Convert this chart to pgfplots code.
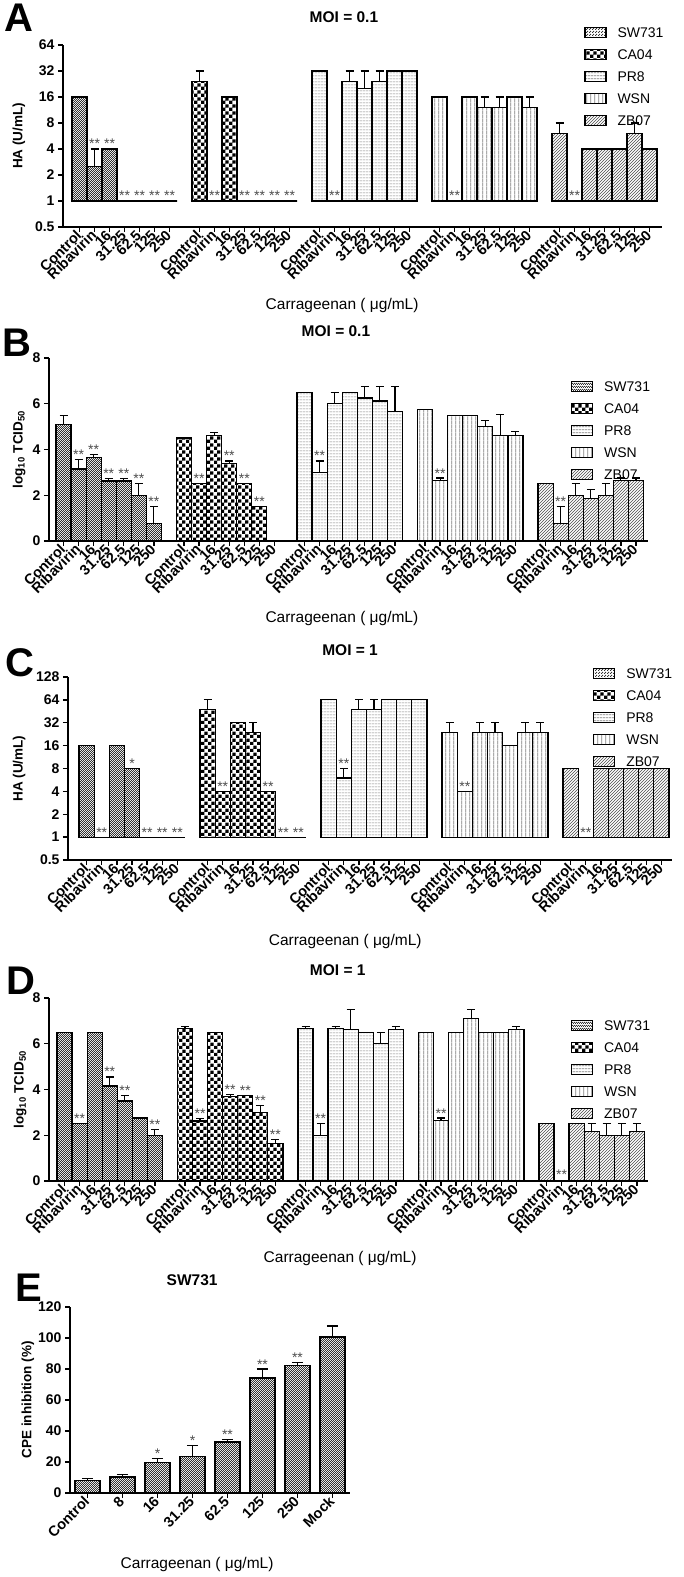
\documentclass[border=0pt]{standalone}
\usepackage{pgfplots}
\pgfplotsset{compat=1.18}
\usetikzlibrary{patterns}
\usepackage{fontspec}
\setmainfont{Liberation Sans}

\pgfdeclarepatternformonly{smallcheck}{\pgfqpoint{0pt}{0pt}}{\pgfqpoint{2.4pt}{2.4pt}}{\pgfqpoint{2.4pt}{2.4pt}}{%
  \pgfpathrectangle{\pgfqpoint{0pt}{0pt}}{\pgfqpoint{1.2pt}{1.2pt}}%
  \pgfpathrectangle{\pgfqpoint{1.2pt}{1.2pt}}{\pgfqpoint{1.2pt}{1.2pt}}%
  \pgfusepath{fill}}
\pgfdeclarepatternformonly{bigcheck}{\pgfqpoint{0pt}{0pt}}{\pgfqpoint{7.2pt}{7.2pt}}{\pgfqpoint{7.2pt}{7.2pt}}{%
  \pgfpathrectangle{\pgfqpoint{0pt}{0pt}}{\pgfqpoint{3.6pt}{3.6pt}}%
  \pgfpathrectangle{\pgfqpoint{3.6pt}{3.6pt}}{\pgfqpoint{3.6pt}{3.6pt}}%
  \pgfusepath{fill}}
\pgfdeclarepatternformonly{hlines}{\pgfqpoint{0pt}{0pt}}{\pgfqpoint{3pt}{3pt}}{\pgfqpoint{3pt}{3pt}}{%
  \pgfsetlinewidth{0.85pt}%
  \pgfpathmoveto{\pgfqpoint{0pt}{1.5pt}}\pgfpathlineto{\pgfqpoint{3pt}{1.5pt}}\pgfusepath{stroke}}
\pgfdeclarepatternformonly{vlines}{\pgfqpoint{0pt}{0pt}}{\pgfqpoint{3.8pt}{3.8pt}}{\pgfqpoint{3.8pt}{3.8pt}}{%
  \pgfsetlinewidth{0.85pt}%
  \pgfpathmoveto{\pgfqpoint{1.9pt}{0pt}}\pgfpathlineto{\pgfqpoint{1.9pt}{3.8pt}}\pgfusepath{stroke}}

\pgfplotsset{
  every axis title shift=0pt,
  panel/.style={
    scale only axis, clip=false,
    axis x line*=bottom, axis y line*=left,
    axis line style={line width=1.3pt, black},
    major tick style={line width=1.3pt, black},
    tick align=outside, major tick length=5pt,
    xticklabel style={rotate=45, anchor=east, inner sep=1pt, font=\bfseries\fontsize{14.5}{14.5}\selectfont},
    yticklabel style={font=\bfseries\fontsize{14}{14}\selectfont},
    ylabel style={font=\bfseries\fontsize{13.5}{13.5}\selectfont, anchor=center},
    xlabel style={font=\fontsize{15.5}{16}\selectfont, anchor=center},
    title style={font=\bfseries\fontsize{15.5}{16}\selectfont, anchor=center},
    legend cell align=left,
    legend style={draw=none, fill=none, anchor=north west, inner sep=0pt, row sep=10.75pt,
      font=\fontsize{14}{14}\selectfont,
      nodes={inner sep=0pt, text height=10pt, text depth=0pt},
      /tikz/every odd column/.append style={column sep=11pt}},
  },
  grpx/.style={
    xtick={0,1,2,3,4,5,6,8,9,10,11,12,13,14,16,17,18,19,20,21,22,24,25,26,27,28,29,30,32,33,34,35,36,37,38},
    xticklabels={Control,Ribavirin,16,31.25,62.5,125,250,Control,Ribavirin,16,31.25,62.5,125,250,Control,Ribavirin,16,31.25,62.5,125,250,Control,Ribavirin,16,31.25,62.5,125,250,Control,Ribavirin,16,31.25,62.5,125,250},
  },
  mybar/.style={ybar, bar width=1, bar shift=0pt, draw=black, line width=1.2pt,
    error bars/y dir=plus, error bars/y explicit,
    error bars/error mark=-,
    error bars/error bar style={line width=1.2pt, solid, black},
    error bars/error mark options={black, rotate=90, mark size=4pt, line width=1.2pt},
    legend image code/.code={\draw[##1, line width=1.2pt] (0pt,-5pt) rectangle (21pt,5pt);}},
  sw/.style={pattern=smallcheck, pattern color=black!80},
  ca/.style={pattern=bigcheck, pattern color=black},
  pr/.style={pattern=hlines, pattern color=black!50},
  ws/.style={pattern=vlines, pattern color=black!50},
  zb/.style={pattern=north east lines, pattern color=black!70},
  stars/.style={forget plot, draw=none, mark=none, nodes near coords, point meta=explicit symbolic,
    every node near coord/.append style={anchor=base, inner sep=0pt, font=\fontsize{14}{14}\selectfont, text=black!70}},
}

\begin{document}
\begin{tikzpicture}
\path[use as bounding box] (0pt,0pt) rectangle (683pt,1577pt);

% ---------------- Panel A ----------------
\node[font=\bfseries\fontsize{40}{40}\selectfont] at (19pt,1559pt) {A};
\begin{axis}[panel, grpx, at={(63pt,1350pt)}, anchor=south west, width=599pt, height=182pt,
  xmin=-1.1, xmax=38.83, ymode=log, log basis y=2, ymin=0.5, ymax=64,
  ytick={0.5,1,2,4,8,16,32,64}, yticklabels={0.5,1,2,4,8,16,32,64},
  ylabel={HA (U/mL)}, ylabel style={at={(axis description cs:-0.0735,0.5)}},
  xlabel={Carrageenan ( μg/mL)}, xlabel style={at={(axis description cs:0.466,-0.434)}},
  title={MOI = 0.1}, title style={at={(axis description cs:0.469,1.154)}},
  legend style={at={(0.870,1.099)}}]
\addplot[mybar, sw] table[row sep=\\, x=x, y=y, y error=e]{x y e\\0 16 0\\1 2.5 1.5\\2 4 0\\3 1 0\\4 1 0\\5 1 0\\6 1 0\\};
\addplot[mybar, ca] table[row sep=\\, x=x, y=y, y error=e]{x y e\\8 24 8\\9 1 0\\10 16 0\\11 1 0\\12 1 0\\13 1 0\\14 1 0\\};
\addplot[mybar, pr] table[row sep=\\, x=x, y=y, y error=e]{x y e\\16 32 0\\17 1 0\\18 24 8\\19 20 12\\20 24 8\\21 32 0\\22 32 0\\};
\addplot[mybar, ws] table[row sep=\\, x=x, y=y, y error=e]{x y e\\24 16 0\\25 1 0\\26 16 0\\27 12 4\\28 12 4\\29 16 0\\30 12 4\\};
\addplot[mybar, zb] table[row sep=\\, x=x, y=y, y error=e]{x y e\\32 6 2\\33 1 0\\34 4 0\\35 4 0\\36 4 0\\37 6 2\\38 4 0\\};
\addplot[stars] coordinates {(1,4) [**] (2,4) [**] (3,1) [**] (4,1) [**] (5,1) [**] (6,1) [**] (9,1) [**] (11,1) [**] (12,1) [**] (13,1) [**] (14,1) [**] (17,1) [**] (25,1) [**] (33,1) [**]};
\legend{SW731,CA04,PR8,WSN,ZB07}
\end{axis}

% ---------------- Panel B ----------------
\node[font=\bfseries\fontsize{40}{40}\selectfont] at (17pt,1234pt) {B};
\begin{axis}[panel, grpx, at={(49pt,1036pt)}, anchor=south west, width=599pt, height=183pt,
  xmin=-0.963, xmax=38.8, ymin=0, ymax=8,
  ytick={0,2,4,6,8}, yticklabels={0,2,4,6,8},
  ylabel={log\textsubscript{10} TCID\textsubscript{50}}, ylabel style={at={(axis description cs:-0.050,0.5)}},
  xlabel={Carrageenan ( μg/mL)}, xlabel style={at={(axis description cs:0.489,-0.426)}},
  title={MOI = 0.1}, title style={at={(axis description cs:0.479,1.148)}},
  legend style={at={(0.871,0.874)}}]
\addplot[mybar, sw] table[row sep=\\, x=x, y=y, y error=e]{x y e\\0 5.1 0.4\\1 3.15 0.4\\2 3.65 0.12\\3 2.62 0.12\\4 2.62 0.12\\5 2.0 0.5\\6 0.75 0.75\\};
\addplot[mybar, ca] table[row sep=\\, x=x, y=y, y error=e]{x y e\\8 4.5 0\\9 2.5 0\\10 4.62 0.13\\11 3.4 0.1\\12 2.5 0\\13 1.5 0\\};
\addplot[mybar, pr] table[row sep=\\, x=x, y=y, y error=e]{x y e\\16 6.5 0\\17 3.0 0.5\\18 6.0 0.5\\19 6.5 0\\20 6.25 0.5\\21 6.12 0.65\\22 5.65 1.1\\};
\addplot[mybar, ws] table[row sep=\\, x=x, y=y, y error=e]{x y e\\24 5.75 0\\25 2.63 0.12\\26 5.5 0\\27 5.5 0\\28 5.0 0.28\\29 4.62 0.9\\30 4.62 0.15\\};
\addplot[mybar, zb] table[row sep=\\, x=x, y=y, y error=e]{x y e\\32 2.5 0\\33 0.75 0.75\\34 2.0 0.5\\35 1.86 0.4\\36 2.0 0.5\\37 2.65 0.1\\38 2.65 0.1\\};
\addplot[stars] coordinates {(1,3.55) [**] (2,3.77) [**] (3,2.74) [**] (4,2.74) [**] (5,2.5) [**] (6,1.5) [**] (9,2.5) [**] (11,3.5) [**] (12,2.5) [**] (13,1.5) [**] (17,3.5) [**] (25,2.75) [**] (33,1.5) [**]};
\legend{SW731,CA04,PR8,WSN,ZB07}
\end{axis}

% ---------------- Panel C ----------------
\node[font=\bfseries\fontsize{40}{40}\selectfont] at (20pt,914pt) {C};
\begin{axis}[panel, grpx, at={(68pt,717pt)}, anchor=south west, width=604pt, height=183pt,
  xmin=-1.23, xmax=38.7, ymode=log, log basis y=2, ymin=0.5, ymax=128,
  ytick={0.5,1,2,4,8,16,32,64,128}, yticklabels={0.5,1,2,4,8,16,32,64,128},
  ylabel={HA (U/mL)}, ylabel style={at={(axis description cs:-0.081,0.5)}},
  xlabel={Carrageenan ( μg/mL)}, xlabel style={at={(axis description cs:0.459,-0.448)}},
  title={MOI = 1}, title style={at={(axis description cs:0.467,1.148)}},
  legend style={at={(0.869,1.049)}}]
\addplot[mybar, sw] table[row sep=\\, x=x, y=y, y error=e]{x y e\\0 16 0\\1 1 0\\2 16 0\\3 8 0\\4 1 0\\5 1 0\\6 1 0\\};
\addplot[mybar, ca] table[row sep=\\, x=x, y=y, y error=e]{x y e\\8 48 16\\9 4 0\\10 32 0\\11 24 8\\12 4 0\\13 1 0\\14 1 0\\};
\addplot[mybar, pr] table[row sep=\\, x=x, y=y, y error=e]{x y e\\16 64 0\\17 6 2\\18 48 16\\19 48 16\\20 64 0\\21 64 0\\22 64 0\\};
\addplot[mybar, ws] table[row sep=\\, x=x, y=y, y error=e]{x y e\\24 24 8\\25 4 0\\26 24 8\\27 24 8\\28 16 0\\29 24 8\\30 24 8\\};
\addplot[mybar, zb] table[row sep=\\, x=x, y=y, y error=e]{x y e\\32 8 0\\33 1 0\\34 8 0\\35 8 0\\36 8 0\\37 8 0\\38 8 0\\};
\addplot[stars] coordinates {(1,1) [**] (3,8) [*] (4,1) [**] (5,1) [**] (6,1) [**] (9,4) [**] (12,4) [**] (13,1) [**] (14,1) [**] (17,8) [**] (25,4) [**] (33,1) [**]};
\legend{SW731,CA04,PR8,WSN,ZB07}
\end{axis}

% ---------------- Panel D ----------------
\node[font=\bfseries\fontsize{40}{40}\selectfont] at (21pt,596pt) {D};
\begin{axis}[panel, grpx, at={(49pt,396pt)}, anchor=south west, width=599pt, height=183pt,
  xmin=-1.03, xmax=38.74, ymin=0, ymax=8,
  ytick={0,2,4,6,8}, yticklabels={0,2,4,6,8},
  ylabel={log\textsubscript{10} TCID\textsubscript{50}}, ylabel style={at={(axis description cs:-0.048,0.5)}},
  xlabel={Carrageenan ( μg/mL)}, xlabel style={at={(axis description cs:0.486,-0.421)}},
  title={MOI = 1}, title style={at={(axis description cs:0.482,1.153)}},
  legend style={at={(0.871,0.880)}}]
\addplot[mybar, sw] table[row sep=\\, x=x, y=y, y error=e]{x y e\\0 6.5 0\\1 2.5 0\\2 6.5 0\\3 4.15 0.4\\4 3.5 0.25\\5 2.75 0\\6 2.0 0.25\\};
\addplot[mybar, ca] table[row sep=\\, x=x, y=y, y error=e]{x y e\\8 6.65 0.1\\9 2.62 0.12\\10 6.5 0\\11 3.68 0.1\\12 3.75 0\\13 3.0 0.3\\14 1.65 0.15\\};
\addplot[mybar, pr] table[row sep=\\, x=x, y=y, y error=e]{x y e\\16 6.65 0.1\\17 2.0 0.5\\18 6.65 0.1\\19 6.63 0.87\\20 6.5 0\\21 6.0 0.5\\22 6.63 0.12\\};
\addplot[mybar, ws] table[row sep=\\, x=x, y=y, y error=e]{x y e\\24 6.5 0\\25 2.63 0.12\\26 6.5 0\\27 7.1 0.4\\28 6.5 0\\29 6.5 0\\30 6.63 0.12\\};
\addplot[mybar, zb] table[row sep=\\, x=x, y=y, y error=e]{x y e\\32 2.5 0\\34 2.5 0\\35 2.15 0.35\\36 2.0 0.5\\37 2.0 0.5\\38 2.15 0.35\\};
\addplot[stars] coordinates {(1,2.5) [**] (3,4.55) [**] (4,3.75) [**] (6,2.25) [**] (9,2.74) [**] (11,3.78) [**] (12,3.75) [**] (13,3.3) [**] (14,1.8) [**] (17,2.5) [**] (25,2.75) [**] (33,0.05) [**]};
\legend{SW731,CA04,PR8,WSN,ZB07}
\end{axis}

% ---------------- Panel E ----------------
\node[font=\bfseries\fontsize{40}{40}\selectfont] at (29pt,289pt) {E};
\begin{axis}[panel, at={(70pt,84pt)}, anchor=south west, width=280pt, height=186pt,
  xmin=-0.5, xmax=7.5, ymin=0, ymax=120,
  xtick={0,1,2,3,4,5,6,7}, xticklabels={Control,8,16,31.25,62.5,125,250,Mock},
  ytick={0,20,40,60,80,100,120}, yticklabels={0,20,40,60,80,100,120},
  ylabel={CPE inhibition (\%)}, ylabel style={at={(axis description cs:-0.15,0.5)}},
  xlabel={Carrageenan ( μg/mL)}, xlabel style={at={(axis description cs:0.454,-0.387)}},
  title={SW731}, title style={at={(axis description cs:0.436,1.145)}}]
\addplot[mybar, sw, bar width=0.714, error bars/error mark options={black, rotate=90, mark size=5.5pt, line width=1.2pt}] table[row sep=\\, x=x, y=y, y error=e]{x y e\\0 8.2 1.0\\1 10.3 1.7\\2 19.6 2.6\\3 23.7 6.8\\4 32.9 1.5\\5 74.2 5.8\\6 82.4 1.9\\7 100.6 7.1\\};
\addplot[stars] coordinates {(2,22.2) [*] (3,30.5) [*] (4,34.4) [**] (5,80) [**] (6,84.3) [**]};
\end{axis}
\end{tikzpicture}
\end{document}
